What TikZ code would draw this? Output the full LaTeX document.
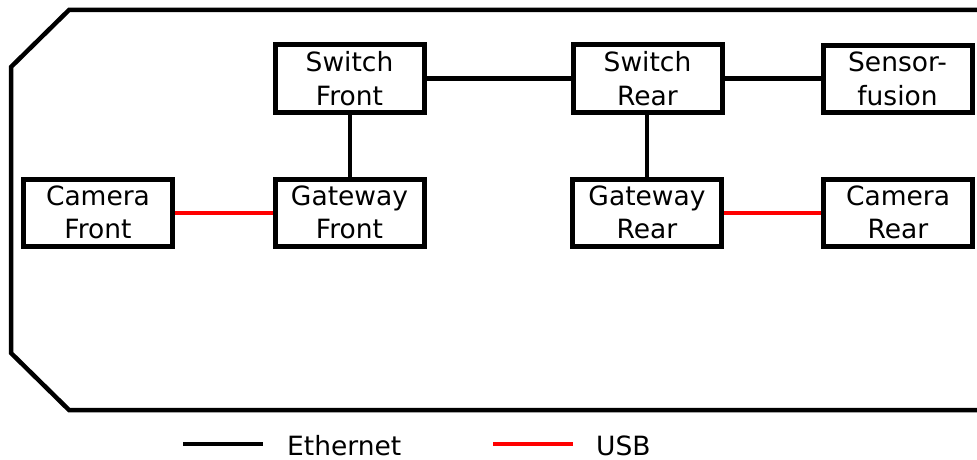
\documentclass[tikz,border=0pt]{standalone}
\usepackage{fontspec}
\setmainfont{DejaVu Sans}
\begin{document}
\begin{tikzpicture}[x=1pt,y=-1pt,
  unit/.style={draw=black,line width=5pt,minimum width=149pt,minimum height=67pt,
    inner sep=0pt,align=center,font=\fontsize{26.5}{33.5}\selectfont},
  eth/.style={draw=black,line width=4pt},
  usb/.style={draw=red,line width=4pt},
  legendtext/.style={anchor=base west,inner sep=0pt,font=\fontsize{26.5}{33.5}\selectfont}]
\useasboundingbox (0,0) rectangle (977,460);
\clip (0,0) rectangle (977,460);

% vehicle outline
\draw[line width=4.5pt,line join=miter] (990,10) -- (69,10) -- (11,67) -- (11,353) -- (69,410) -- (990,410);

% units
\node[unit] (swf) at (349.5,78.5) {Switch\\Front};
\node[unit] (swr) at (647.5,78.5) {Switch\\Rear};
\node[unit] (sf)  at (897.5,79)   {Sensor-\\fusion};
\node[unit] (cf)  at (98,212.5)   {Camera\\Front};
\node[unit] (gf)  at (349.5,212.5) {Gateway\\Front};
\node[unit] (gr)  at (647,212.5)  {Gateway\\Rear};
\node[unit] (cr)  at (898,212.5)  {Camera\\Rear};

% ethernet links
\draw[eth] (swf.east) -- (swr.west);
\draw[eth] (swr.east) -- (swr.east -| sf.west);
\draw[eth] (swf.south) -- (gf.north);
\draw[eth] (swr.south -| gr.north) -- (gr.north);

% usb links
\draw[usb] (cf.east) -- (gf.west);
\draw[usb] (gr.east) -- (cr.west);

% legend
\coordinate (e1) at (183,444);
\coordinate (e2) at (263,444);
\coordinate (u1) at (493,444);
\coordinate (u2) at (573,444);
\draw[eth] (e1) -- (e2);
\draw[usb] (u1) -- (u2);
\node[legendtext] (etxt) at (287,455) {Ethernet};
\node[legendtext] (utxt) at (596,455) {USB};
\end{tikzpicture}
\end{document}
